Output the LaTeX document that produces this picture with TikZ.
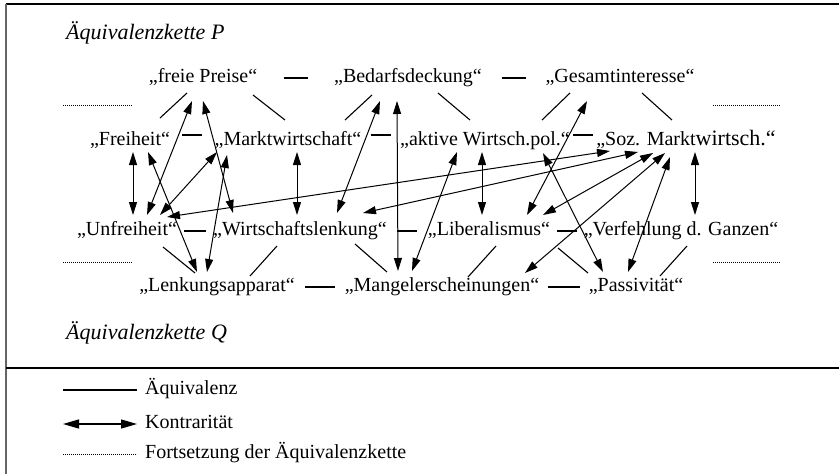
\documentclass[tikz,border=0pt]{standalone}
\usepackage{fontspec}
\setmainfont{Liberation Serif}
\usetikzlibrary{calc,arrows.meta}
\begin{document}
\begin{tikzpicture}[x=1pt,y=-1pt,
  lbl/.style={inner sep=0pt, text height=14pt, text depth=4.5pt, font=\fontsize{20}{23}\selectfont},
  ttl/.style={inner sep=0pt, anchor=west, font=\fontsize{22}{25}\selectfont\itshape},
  eqv/.style={line width=1.1pt},
  kon/.style={line width=1pt, {Triangle[length=13pt,width=8pt]}-{Triangle[length=13pt,width=8pt]}},
  konleg/.style={line width=1.2pt, {Triangle[length=16pt,width=9pt]}-{Triangle[length=16pt,width=9pt]}},
  cont/.style={line width=0.8pt, dash pattern=on 0.8pt off 1.2pt},
  frame/.style={line width=1.2pt}]
\useasboundingbox (0,0) rectangle (839,474);
% frame
\draw[frame] (6,4) -- (839,4);
\draw[frame, black!60] (6,4) -- (6,474);
\draw[frame] (6,368) -- (839,368);
% titles
\node[ttl] (tp) at (66,33) {Äquivalenzkette P};
\node[ttl] (tq) at (66,333) {Äquivalenzkette Q};
% nodes
\node[lbl] (fp) at (203,78) {„freie Preise“};
\node[lbl] (bd) at (408,78) {„Bedarfsdeckung“};
\node[lbl] (gi) at (620,78) {„Gesamtinteresse“};
\node[lbl] (fr) at (130,141) {„Freiheit“};
\node[lbl] (mw) at (288,141) {„Marktwirtschaft“};
\node[lbl] (aw) at (485,141) {„aktive Wirtsch.pol.“};
\node[lbl] (sm) at (686,141) {„Soz. Markt{\fontsize{22}{23}\selectfont wirtsch.“}};
\node[lbl] (uf) at (127,231) {„Unfreiheit“};
\node[lbl] (wl) at (300,231) {„Wirtschaftslenkung“};
\node[lbl] (lb) at (489,231) {„Liberalismus“};
\node[lbl] (vg) at (681,231) {„Verfehlung d. Ganzen“};
\node[lbl] (la) at (217,287) {„Lenkungsapparat“};
\node[lbl] (me) at (442,287) {„Mangelerscheinungen“};
\node[lbl] (pa) at (636,287) {„Passivität“};
% horizontal equivalences
\draw[eqv] ($(fp.east)!.5!(bd.west)$) +(-12,0) -- +(12,0);
\draw[eqv] ($(bd.east)!.5!(gi.west)$) +(-12,0) -- +(12,0);
\draw[eqv] ($(fr.east)!.5!(mw.west)$) +(-10,-6) -- +(10,-6);
\draw[eqv] ($(mw.east)!.5!(aw.west)$) +(-10,-6) -- +(10,-6);
\draw[eqv] ($(aw.east)!.5!(sm.west)$) +(-10,-6) -- +(10,-6);
\draw[eqv] ($(uf.east)!.5!(wl.west)$) +(-11,0) -- +(11,0);
\draw[eqv] ($(wl.east)!.5!(lb.west)$) +(-10,0) -- +(10,0);
\draw[eqv] ($(lb.east)!.5!(vg.west)$) +(-10,0) -- +(10,0);
\draw[eqv] ($(la.east)!.5!(me.west)$) +(-15,0) -- +(15,0);
\draw[eqv] ($(me.east)!.5!(pa.west)$) +(-16,0) -- +(16,0);
% diagonal equivalences
\draw[eqv] ($(fp)+(-16,15)$) -- ($(fr)+(30,-23)$);
\draw[eqv] ($(fp)+(50,17)$) -- ($(mw)+(-3,-21)$);
\draw[eqv] ($(bd)+(-36,17)$) -- ($(mw)+(57,-21)$);
\draw[eqv] ($(bd)+(30,15)$) -- ($(aw)+(-15,-21)$);
\draw[eqv] ($(gi)+(-50,15)$) -- ($(aw)+(57,-21)$);
\draw[eqv] ($(gi)+(22,15)$) -- ($(sm)+(-14,-21)$);
\draw[eqv] ($(uf)+(36,16)$) -- ($(la)+(-22,-14)$);
\draw[eqv] ($(wl)+(-23,15)$) -- ($(la)+(33,-11)$);
\draw[eqv] ($(wl)+(55,13)$) -- ($(me)+(-55,-15)$);
\draw[eqv] ($(lb)+(7,15)$) -- ($(me)+(26,-10)$);
\draw[eqv] ($(lb)+(69,17)$) -- ($(pa)+(-48,-14)$);
\draw[eqv] ($(vg)+(6,15)$) -- ($(pa)+(24,-11)$);
% contrarieties
\draw[kon] ($(fr)+(3,11)$) -- ($(uf)+(6,-16)$);
\draw[kon] ($(fr)+(18,11)$) -- ($(la)+(-20,-15)$);
\draw[kon] ($(uf)+(20,-16)$) -- ($(fp)+(-11,23)$);
\draw[kon] ($(uf)+(33,-16)$) -- ($(mw)+(-71,11)$);
\draw[kon] ($(fp)+(0,23)$) -- ($(wl)+(-67,-18)$);
\draw[kon] ($(mw)+(-61,14)$) -- ($(la)+(-10,-15)$);
\draw[kon] ($(mw)+(9,11)$) -- ($(wl)+(-3,-16)$);
\draw[kon] ($(uf)+(40,-14)$) -- ($(sm)+(-76,10)$);
\draw[kon] ($(wl)+(63,-18)$) -- ($(sm)+(-48,11)$);
\draw[kon] ($(wl)+(37,-18)$) -- ($(bd)+(-28,23)$);
\draw[kon] ($(bd)+(-11,23)$) -- ($(me)+(-44,-16)$);
\draw[kon] ($(me)+(-30,-16)$) -- ($(aw)+(-28,11)$);
\draw[kon] ($(aw)+(-3,11)$) -- ($(lb)+(-7,-16)$);
\draw[kon] ($(lb)+(38,-16)$) -- ($(gi)+(-33,23)$);
\draw[kon] ($(aw)+(58,12)$) -- ($(pa)+(-33,-15)$);
\draw[kon] ($(lb)+(54,-16)$) -- ($(sm)+(-33,12)$);
\draw[kon] ($(me)+(83,-14)$) -- ($(sm)+(-21,12)$);
\draw[kon] ($(pa)+(-8,-15)$) -- ($(sm)+(-16,16)$);
\draw[kon] ($(sm)+(9,11)$) -- ($(vg)+(14,-16)$);
% continuation dots
\draw[cont] (63,105) -- (132,105);
\draw[cont] (713,105) -- (780,105);
\draw[cont] (63,262) -- (132,262);
\draw[cont] (713,262) -- (780,262);
% legend
\node[lbl, anchor=west] (le) at (145,390) {Äquivalenz};
\node[lbl, anchor=west] (lk) at (145,424) {Kontrarität};
\node[lbl, anchor=west] (lf) at (145,454) {Fortsetzung der Äquivalenzkette};
\draw[eqv] ($(le.west)+(-82,0)$) -- ($(le.west)+(-8,0)$);
\draw[konleg] ($(lk.west)+(-82,0)$) -- ($(lk.west)+(-8,0)$);
\draw[cont] ($(lf.west)+(-82,0)$) -- ($(lf.west)+(-8,0)$);
\end{tikzpicture}
\end{document}
